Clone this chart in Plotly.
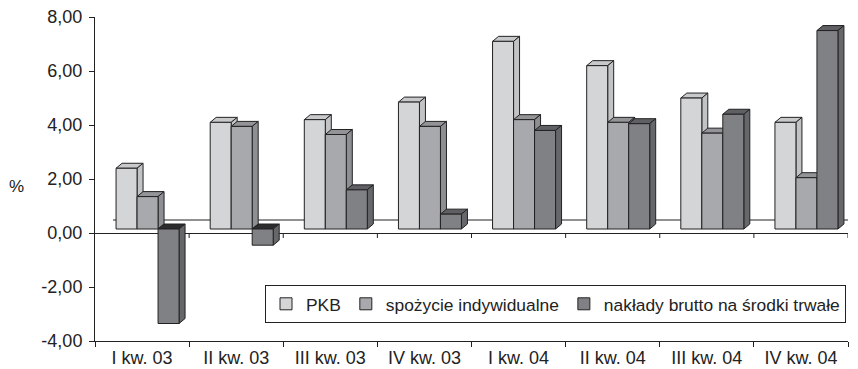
import plotly.graph_objects as go

# ---- data ----
categories = ["I kw. 03", "II kw. 03", "III kw. 03", "IV kw. 03",
              "I kw. 04", "II kw. 04", "III kw. 04", "IV kw. 04"]
pkb = [2.25, 3.95, 4.05, 4.70, 6.95, 6.05, 4.85, 3.95]
spozycie = [1.20, 3.80, 3.50, 3.80, 4.05, 3.95, 3.55, 1.90]
naklady = [-3.50, -0.60, 1.45, 0.55, 3.65, 3.90, 4.25, 7.35]
series_names = ["PKB", "spożycie indywidualne", "nakłady brutto na środki trwałe"]
y_ticks = [-4, -2, 0, 2, 4, 6, 8]
y_ticktext = [f"{v:.2f}".replace(".", ",") for v in y_ticks]

# ---- style / geometry (pixels) ----
W, H = 858, 369
ML, MR, MT, MB = 95, 10, 17, 28
XR = [-0.5, len(categories) - 0.5]
YR = [-4, 8]
PX_X = (W - ML - MR) / (XR[1] - XR[0])
PX_Y = (H - MT - MB) / (YR[1] - YR[0])
BAR_W = 21 / PX_X
SHIFT = 5.5 / PX_X
DX = 6 / PX_X
DY = 5 / PX_Y
BASE = 4 / PX_Y
FRONT = ["#d4d5d7", "#a8a9ac", "#808185"]
SIDE = ["#c2c3c5", "#8e8f92", "#66676a"]
TOP = ["#c8c9cb", "#939497", "#5f6063"]
TOP_NEG = "#2c2c2e"
EDGE = "#222222"
FONT = "Liberation Sans, Arial, sans-serif"

series = [pkb, spozycie, naklady]
fig = go.Figure()
offsets = [-1.5 * BAR_W + k * BAR_W + SHIFT for k in range(3)]
for k, (name, vals) in enumerate(zip(series_names, series)):
    fig.add_trace(go.Bar(
        x=categories, y=vals, base=BASE, name=name,
        width=BAR_W, offset=offsets[k],
        marker=dict(color=FRONT[k], line=dict(color=EDGE, width=1)),
    ))

shapes = []
# back floor edge line
shapes.append(dict(type="line", xref="x", yref="y",
                   x0=XR[0] + 18 / PX_X, x1=XR[1] + 7 / PX_X,
                   y0=13 / PX_Y, y1=13 / PX_Y,
                   line=dict(color=EDGE, width=1), layer="between"))
# 3D caps and side faces
for i in range(len(categories)):
    for k, vals in enumerate(series):
        v = vals[i]
        left = i + offsets[k]
        right = left + BAR_W
        top = BASE + max(v, 0)
        bot = BASE + min(v, 0)
        cap = (f"M{left},{top} L{right},{top} L{right + DX},{top + DY} "
               f"L{left + DX},{top + DY} Z")
        side = (f"M{right},{bot} L{right},{top} L{right + DX},{top + DY} "
                f"L{right + DX},{bot + DY} Z")
        shapes.append(dict(type="path", xref="x", yref="y", path=cap,
                           fillcolor=TOP[k] if v >= 0 else TOP_NEG,
                           line=dict(color=EDGE, width=1), layer="between"))
        shapes.append(dict(type="path", xref="x", yref="y", path=side,
                           fillcolor=SIDE[k],
                           line=dict(color=EDGE, width=1), layer="between"))
# tick marks on the zero line at category boundaries
for i in range(len(categories)):
    xb = i + 0.5
    shapes.append(dict(type="line", xref="x", yref="y", x0=xb, x1=xb,
                       y0=0, y1=-5 / PX_Y, line=dict(color=EDGE, width=1)))

fig.update_layout(
    width=W, height=H,
    margin=dict(l=ML, r=MR, t=MT, b=MB, pad=0, autoexpand=False),
    paper_bgcolor="white", plot_bgcolor="white",
    barmode="group",
    font=dict(family=FONT, size=18, color="#222222"),
    shapes=shapes,
    showlegend=True,
    legend=dict(orientation="h", x=(265 - ML) / (W - ML - MR),
                y=(H - MB - 285) / (H - MT - MB),
                xanchor="left", yanchor="top",
                bgcolor="white", bordercolor=EDGE, borderwidth=1,
                font=dict(size=17.4), traceorder="normal",
                itemwidth=30, tracegroupgap=0),
    annotations=[dict(text="%", xref="paper", yref="paper",
                      x=-(ML - 16) / (W - ML - MR), y=(H - MB - 186) / (H - MT - MB),
                      showarrow=False, xanchor="center", yanchor="middle",
                      font=dict(size=17))],
)
fig.update_xaxes(range=XR, showline=True, linecolor=EDGE, linewidth=1,
                 ticks="outside", ticklen=5, tickcolor=EDGE, tickson="boundaries",
                 showgrid=False, zeroline=False, fixedrange=True, automargin=False,
                 tickfont=dict(size=18))
fig.update_yaxes(range=YR, tickvals=y_ticks, ticktext=y_ticktext,
                 showline=True, linecolor=EDGE, linewidth=1,
                 ticks="outside", ticklen=5, tickcolor=EDGE, ticklabelstandoff=3,
                 showgrid=False, zeroline=True, zerolinecolor=EDGE, zerolinewidth=1,
                 fixedrange=True, automargin=False, tickfont=dict(size=18))

fig.write_html("out.html")
